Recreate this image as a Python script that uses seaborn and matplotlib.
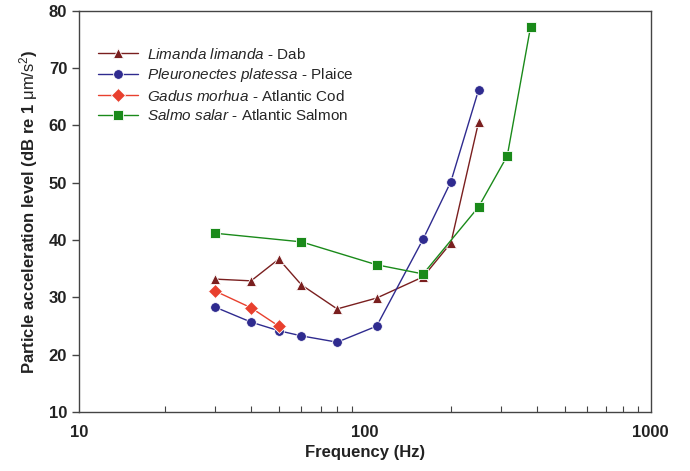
import pandas as pd
import matplotlib.pyplot as plt
import seaborn as sns

# values
dab_freq = [30, 40, 50, 60, 80, 110, 160, 200, 250]
dab_level = [33.2, 32.9, 36.7, 32.2, 28.0, 29.9, 33.6, 39.5, 60.6]

plaice_freq = [30, 40, 50, 60, 80, 110, 160, 200, 250]
plaice_level = [28.3, 25.7, 24.2, 23.3, 22.2, 25.0, 40.2, 50.2, 66.2]

cod_freq = [30, 40, 50]
cod_level = [31.1, 28.2, 25.0]

salmon_freq = [30, 60, 110, 160, 250, 315, 380]
salmon_level = [41.2, 39.7, 35.7, 34.1, 45.8, 54.7, 77.2]

species = [r"$\it{Limanda\ limanda}$ - Dab",
           r"$\it{Pleuronectes\ platessa}$ - Plaice",
           r"$\it{Gadus\ morhua}$ - Atlantic Cod",
           r"$\it{Salmo\ salar}$ - Atlantic Salmon"]
colors = ["#7a1f1f", "#2f2b8f", "#e8402e", "#1a8a1a"]
markers = ["^", "o", "D", "s"]

sns.set_style("white")
plt.rcParams["font.family"] = ["Liberation Sans", "DejaVu Sans"]
plt.rcParams["mathtext.fontset"] = "custom"
plt.rcParams["mathtext.it"] = "Liberation Sans:italic"
plt.rcParams["mathtext.rm"] = "Liberation Sans"

frames = []
for name, f, v in zip(species,
                      [dab_freq, plaice_freq, cod_freq, salmon_freq],
                      [dab_level, plaice_level, cod_level, salmon_level]):
    frames.append(pd.DataFrame({"freq": f, "level": v, "species": name}))
df = pd.concat(frames, ignore_index=True)

fig = plt.figure(figsize=(6.9, 4.71), dpi=100)
ax = fig.add_axes([0.1145, 0.125, 0.8285, 0.852])

sns.lineplot(data=df, x="freq", y="level", hue="species", style="species",
             hue_order=species, style_order=species,
             palette=dict(zip(species, colors)),
             markers=dict(zip(species, markers)), dashes=False,
             markersize=7, linewidth=1.0, markeredgewidth=0.6,
             sort=False, ax=ax)

ax.set_xscale("log")
ax.set_xlim(10, 1000)
ax.set_ylim(10, 80)
ax.set_yticks(range(10, 81, 10))
ax.set_xticks([10, 100, 1000])
ax.set_xticklabels(["10", "100", "1000"])

for sp in ax.spines.values():
    sp.set_visible(True)
    sp.set_color("#444444")
    sp.set_linewidth(1.0)

ax.tick_params(axis="x", which="major", direction="inout", length=8, width=1,
               labelsize=12, colors="#444444", labelcolor="#222222", pad=5)
ax.tick_params(axis="x", which="minor", direction="in", length=4, width=0.8,
               colors="#444444", bottom=True)
ax.tick_params(axis="y", direction="out", length=5, width=1,
               labelsize=12, colors="#444444", labelcolor="#222222", left=True)
for lab in ax.get_xticklabels() + ax.get_yticklabels():
    lab.set_fontweight("bold")

ax.set_xlabel("Frequency (Hz)", fontsize=12, fontweight="bold", color="#222222")
ax.set_ylabel(r"Particle acceleration level (dB re 1 $\mathrm{\mu m/s^2}$)",
              fontsize=12, fontweight="bold", color="#222222", labelpad=6)

handles, labels = ax.get_legend_handles_labels()
ax.legend(handles, labels, loc="upper left", bbox_to_anchor=(0.01, 0.945),
          frameon=False, fontsize=11, handlelength=2.6, labelspacing=0.3,
          handletextpad=0.6)

fig.savefig("out.png", dpi=100)
